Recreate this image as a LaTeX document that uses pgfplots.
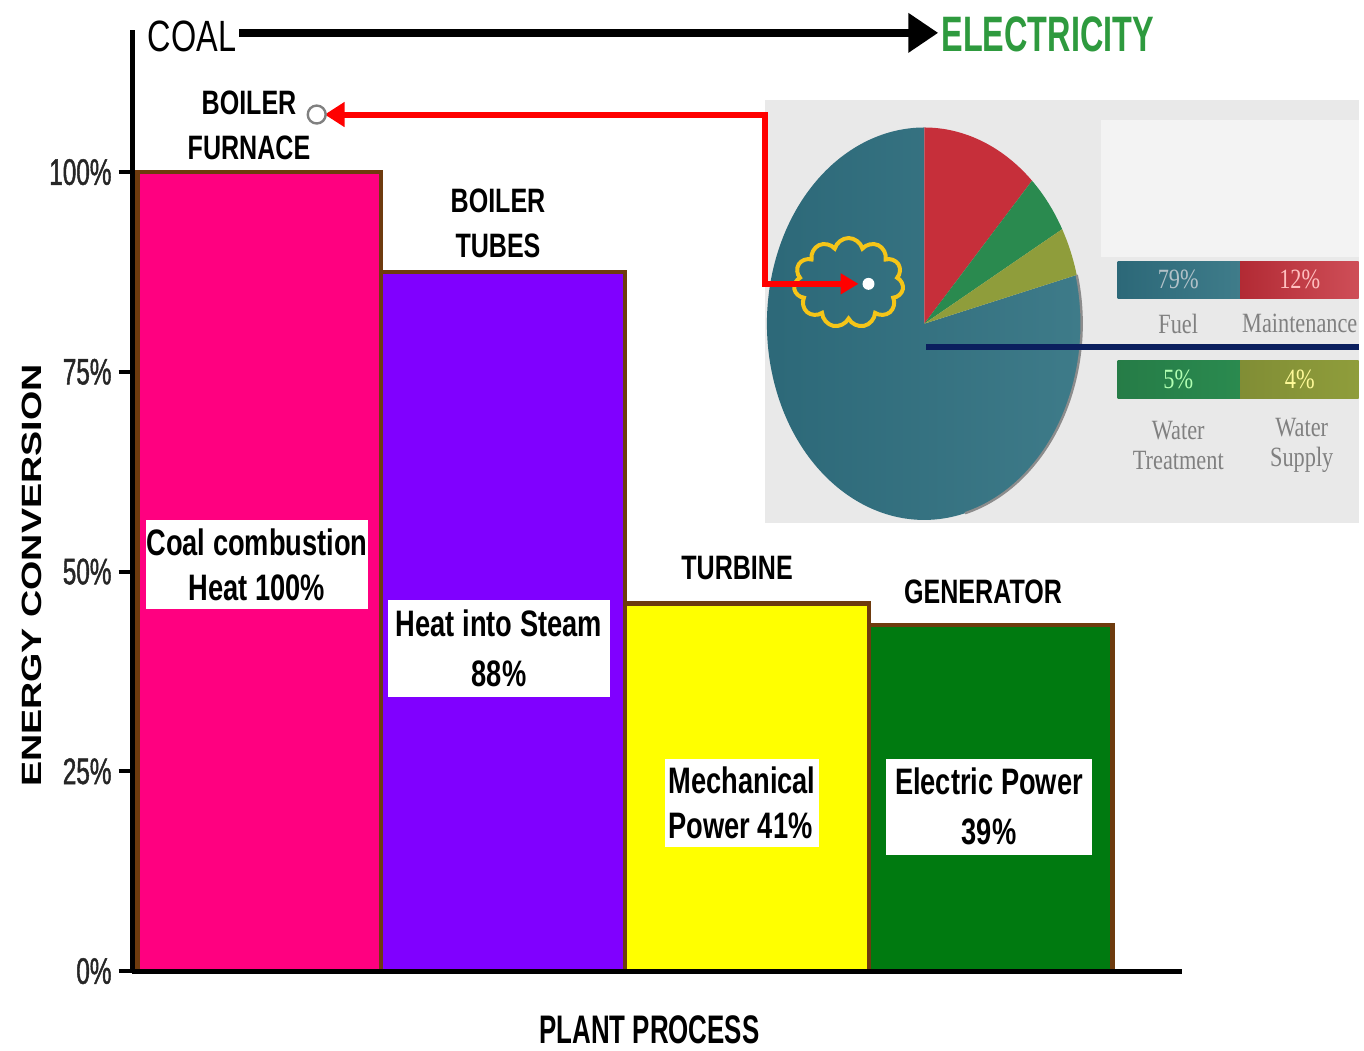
\documentclass[border=0pt]{standalone}
\usepackage{pgfplots}
\pgfplotsset{compat=1.18}
\usepackage{fontspec}
\setmainfont{Liberation Sans}
\newfontfamily\fN[FakeStretch=0.74]{Liberation Sans}
\newfontfamily\fT[FakeStretch=0.66,FakeBold=1.2]{Liberation Sans}
\newfontfamily\fE[FakeStretch=0.65]{Liberation Sans}
\newfontfamily\fW[FakeStretch=1.35]{Liberation Sans}
\newfontfamily\fS[FakeStretch=0.8]{Liberation Serif}
\usetikzlibrary{arrows.meta,shapes.symbols}
\definecolor{pinkc}{HTML}{FF0080}
\definecolor{purplec}{HTML}{8000FF}
\definecolor{yellowc}{HTML}{FFFF00}
\definecolor{greenc}{HTML}{007A10}
\definecolor{brownc}{HTML}{6E3B0E}
\definecolor{elecgreen}{HTML}{2E9A3E}
\definecolor{pieTeal}{HTML}{2C6878}
\definecolor{pieTealL}{HTML}{3F7C8A}
\definecolor{pieRed}{HTML}{C62F3A}
\definecolor{pieGreen}{HTML}{2A8A4F}
\definecolor{pieOlive}{HTML}{8F9D3B}
\definecolor{navyc}{HTML}{0B1F5E}
\definecolor{cloudc}{HTML}{F5C518}
\definecolor{insetbg}{HTML}{E9E9E9}
\begin{document}
\begin{tikzpicture}
\begin{scope}[x=0.5pt,y=-0.5pt]
\useasboundingbox (0,0) rectangle (1364,1051);
\end{scope}
\begin{axis}[
  at={(66.5pt,-487.5pt)}, anchor=south west,
  scale only axis, width=527pt, height=472.5pt,
  xmin=-0.5205, xmax=3.786, ymin=0, ymax=117.8,
  axis x line=bottom, axis y line=left,
  axis line style={line width=2.5pt,-},
  axis on top,
  xtick=\empty,
  ytick={0,25,50,75,100},
  yticklabels={0\%,25\%,50\%,75\%,100\%},
  tick style={line width=2pt,black},
  major tick length=7pt,
  ytick align=outside,
  yticklabel style={font=\fT\fontsize{18.5}{18.5}\selectfont, text=black!85},
]
\addplot[ybar, bar width=1, bar shift=0pt, fill=pinkc, draw=brownc, line width=2.2pt] coordinates {(0,100)};
\addplot[ybar, bar width=1, bar shift=0pt, fill=purplec, draw=brownc, line width=2.2pt] coordinates {(1,87.5)};
\addplot[ybar, bar width=1, bar shift=0pt, fill=yellowc, draw=brownc, line width=2.2pt] coordinates {(2,46)};
\addplot[ybar, bar width=1, bar shift=0pt, fill=greenc, draw=brownc, line width=2.2pt] coordinates {(3,43.3)};
\end{axis}
\begin{scope}[x=0.5pt,y=-0.5pt]
% inset background
\fill[insetbg] (768,100) rectangle (1364,525);
\fill[white!45!insetbg] (1105,120) rectangle (1364,258);
% pie
\pgfmathsetmacro\aA{90-12*3.6}
\pgfmathsetmacro\aB{\aA-5*3.6}
\pgfmathsetmacro\aC{\aB-4*3.6}
\pgfmathsetmacro\aD{\aC-79*3.6}
\begin{scope}[shift={(928,325)},x=0.5pt,y=0.5pt]
\shade[left color=pieTeal, right color=pieTealL] (0,0) -- (\aC:158 and 197) arc[start angle=\aC, end angle=\aD, x radius=158, y radius=197] -- cycle;
\fill[pieRed] (0,0) -- (90:158 and 197) arc[start angle=90, end angle=\aA, x radius=158, y radius=197] -- cycle;
\fill[pieGreen] (0,0) -- (\aA:158 and 197) arc[start angle=\aA, end angle=\aB, x radius=158, y radius=197] -- cycle;
\fill[pieOlive] (0,0) -- (\aB:158 and 197) arc[start angle=\aB, end angle=\aC, x radius=158, y radius=197] -- cycle;
\draw[black!45, line width=1.2pt] (\aC:158 and 197) arc[start angle=\aC, end angle=-75, x radius=158, y radius=197];
\end{scope}
% legend boxes
\shade[left color=pieTeal, right color=pieTealL] (1122,263) rectangle (1245,300);
\shade[left color=pieRed!90!black, right color=pieRed!85!white] (1245,263) rectangle (1364,300);
\shade[left color=pieGreen!90!black, right color=pieGreen] (1122,362) rectangle (1245,400);
\shade[left color=pieOlive!90!black, right color=pieOlive] (1245,362) rectangle (1364,400);
\node[font=\fS\fontsize{14}{14}\selectfont, text=cyan!20!gray!60!white] at (1183,281) {79\%};
\node[font=\fS\fontsize{14}{14}\selectfont, text=red!25!white] at (1305,281) {12\%};
\node[font=\fS\fontsize{14}{14}\selectfont, text=green!30!white] at (1183,381) {5\%};
\node[font=\fS\fontsize{14}{14}\selectfont, text=yellow!40!white] at (1305,381) {4\%};
\node[font=\fS\fontsize{14}{14}\selectfont, text=black!50] at (1183,325) {Fuel};
\node[font=\fS\fontsize{14}{14}\selectfont, text=black!50] at (1305,325) {Maintenance};
\node[font=\fS\fontsize{14}{15}\selectfont, text=black!50, align=center] at (1183,447) {Water\\Treatment};
\node[font=\fS\fontsize{14}{15}\selectfont, text=black!50, align=center] at (1307,447) {Water\\Supply};
% navy line
\draw[navyc, line width=3pt] (930,348) -- (1364,348);
% cloud
\node[cloud, cloud puffs=11, draw=cloudc, line width=2pt, minimum width=55pt, minimum height=45pt, aspect=1.2] at (852,284) {};
\fill[white] (872,285) circle[radius=6];
% red connector
\draw[red, line width=3pt, {Triangle[length=10pt,width=12pt]}-{Triangle[length=9pt,width=10pt]}] (326,115) -- (768,115) -- (768,285) -- (862,285);
\draw[black!50, fill=white, line width=1.2pt] (318,115) circle[radius=9];
% top arrow
\draw[line width=4pt, -{Triangle[length=15pt,width=19pt]}] (240,33) -- (942,33);
\node[anchor=west, inner sep=0, font=\fN\fontsize{22}{22}\selectfont] at (148,37) {COAL};
\node[anchor=west, inner sep=0, text=elecgreen, font=\fE\bfseries\fontsize{25}{25}\selectfont] at (945,34) {ELECTRICITY};
% category labels
\node[align=center, font=\fN\bfseries\fontsize{17}{22.5}\selectfont] at (250,126) {BOILER\\FURNACE};
\node[align=center, font=\fN\bfseries\fontsize{17}{22.5}\selectfont] at (500,224) {BOILER\\TUBES};
\node[font=\fN\bfseries\fontsize{17}{17}\selectfont] at (740,570) {TURBINE};
\node[font=\fN\bfseries\fontsize{17}{17}\selectfont] at (987,594) {GENERATOR};
% bar labels
\node[fill=white, inner sep=0pt, minimum width=110pt, minimum height=44.5pt, align=center, font=\fN\bfseries\fontsize{18.5}{22.5}\selectfont] at (258,567) {Coal combustion\\Heat 100\%};
\node[fill=white, inner sep=0pt, minimum width=111pt, minimum height=49pt, align=center, font=\fN\bfseries\fontsize{18.5}{25}\selectfont] at (501,651) {Heat into Steam\\88\%};
\node[fill=white, inner sep=0pt, minimum width=77pt, minimum height=44pt, align=left, font=\fN\bfseries\fontsize{18.5}{22.5}\selectfont] at (745,806) {Mechanical\\Power 41\%};
\node[fill=white, inner sep=0pt, minimum width=103.5pt, minimum height=48pt, align=center, font=\fN\bfseries\fontsize{18.5}{25}\selectfont] at (993,810) {Electric Power\\39\%};
% axis titles
\node[rotate=90, font=\fW\bfseries\fontsize{14}{14}\selectfont] at (32,578) {ENERGY CONVERSION};
\node[font=\fE\bfseries\fontsize{20}{20}\selectfont] at (652,1034) {PLANT PROCESS};
\end{scope}
\end{tikzpicture}
\end{document}
